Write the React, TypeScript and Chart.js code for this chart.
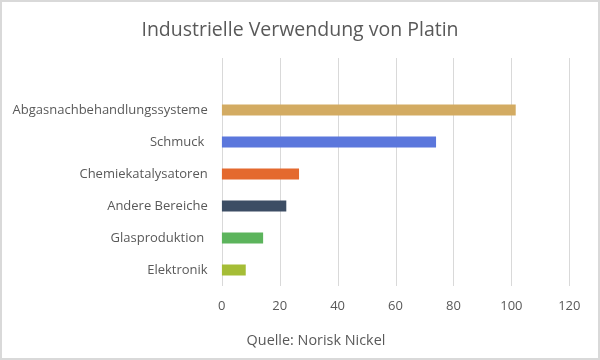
import React, { useEffect, useRef } from "react";
import { Chart, registerables } from "chart.js";

Chart.register(...registerables);

const titleText = "Industrielle Verwendung von Platin";
const sourceText = "Quelle: Norisk Nickel";
const categories = [
  "Abgasnachbehandlungssysteme",
  "Schmuck ",
  "Chemiekatalysatoren",
  "Andere Bereiche",
  "Glasproduktion ",
  "Elektronik",
];
const values = [101.5, 74, 26.7, 22.3, 14.3, 8.3];
const barColors = ["#D3AB62", "#5B77DC", "#E4692E", "#3C4D64", "#5CB45C", "#A5BD36"];
const xMin = 0;
const xMax = 120;
const xStep = 20;

const FONT = "'Open Sans', sans-serif";
const TEXT = "#595959";
const GRID = "#d9d9d9";

export default function App() {
  const ref = useRef<HTMLCanvasElement | null>(null);
  useEffect(() => {
    document.body.style.margin = "0";
    const canvas = ref.current!;
    const textPlugin = {
      id: "textAndGrid",
      beforeDatasetsDraw(chart: any) {
        // vertical gridlines, extended above the category band
        const ctx = chart.ctx;
        const xs = chart.scales.x;
        ctx.save();
        ctx.strokeStyle = GRID;
        ctx.lineWidth = 1;
        xs.ticks.forEach((t: any) => {
          const px = Math.round(xs.getPixelForValue(t.value)) + 0.5;
          ctx.beginPath();
          ctx.moveTo(px, 56);
          ctx.lineTo(px, chart.chartArea.bottom);
          ctx.stroke();
        });
        ctx.restore();
      },
      afterDraw(chart: any) {
        const ctx = chart.ctx;
        ctx.save();
        ctx.fillStyle = TEXT;
        ctx.textAlign = "center";
        ctx.textBaseline = "middle";
        ctx.font = `19.5px ${FONT}`;
        ctx.fillText(titleText, 298, 28.6);
        ctx.font = `14.4px ${FONT}`;
        ctx.fillText(sourceText, 314, 339);
        ctx.restore();
      },
    };
    const chart = new Chart(canvas, {
      type: "bar",
      data: {
        labels: categories,
        datasets: [
          {
            data: values,
            backgroundColor: barColors,
            categoryPercentage: 1,
            barPercentage: 0.34,
          },
        ],
      },
      options: {
        indexAxis: "y",
        animation: false,
        responsive: false,
        layout: { padding: { top: 92, right: 28.7, bottom: 0, left: 0 } },
        plugins: {
          legend: { display: false },
          tooltip: { enabled: false },
          title: { display: false },
        },
        scales: {
          x: {
            min: xMin,
            max: xMax,
            ticks: {
              stepSize: xStep,
              color: TEXT,
              font: { family: FONT, size: 13 },
              padding: 12,
            },
            grid: { display: false, drawTicks: false },
            border: { display: false },
            afterFit(scale: any) {
              scale.height = 72;
            },
          },
          y: {
            ticks: {
              color: TEXT,
              font: { family: FONT, size: 13 },
              padding: 14,
            },
            grid: { display: false, drawTicks: false },
            border: { display: false },
            afterFit(scale: any) {
              scale.width = 219.7;
            },
          },
        },
      },
      plugins: [textPlugin],
    });
    return () => chart.destroy();
  }, []);
  return (
    <div
      style={{
        position: "absolute",
        left: 0,
        top: 0,
        width: 600,
        height: 360,
        boxSizing: "border-box",
        border: "2px solid #d9d9d9",
        background: "#fff",
      }}
    >
      <canvas ref={ref} width={596} height={356} style={{ display: "block" }} />
    </div>
  );
}
